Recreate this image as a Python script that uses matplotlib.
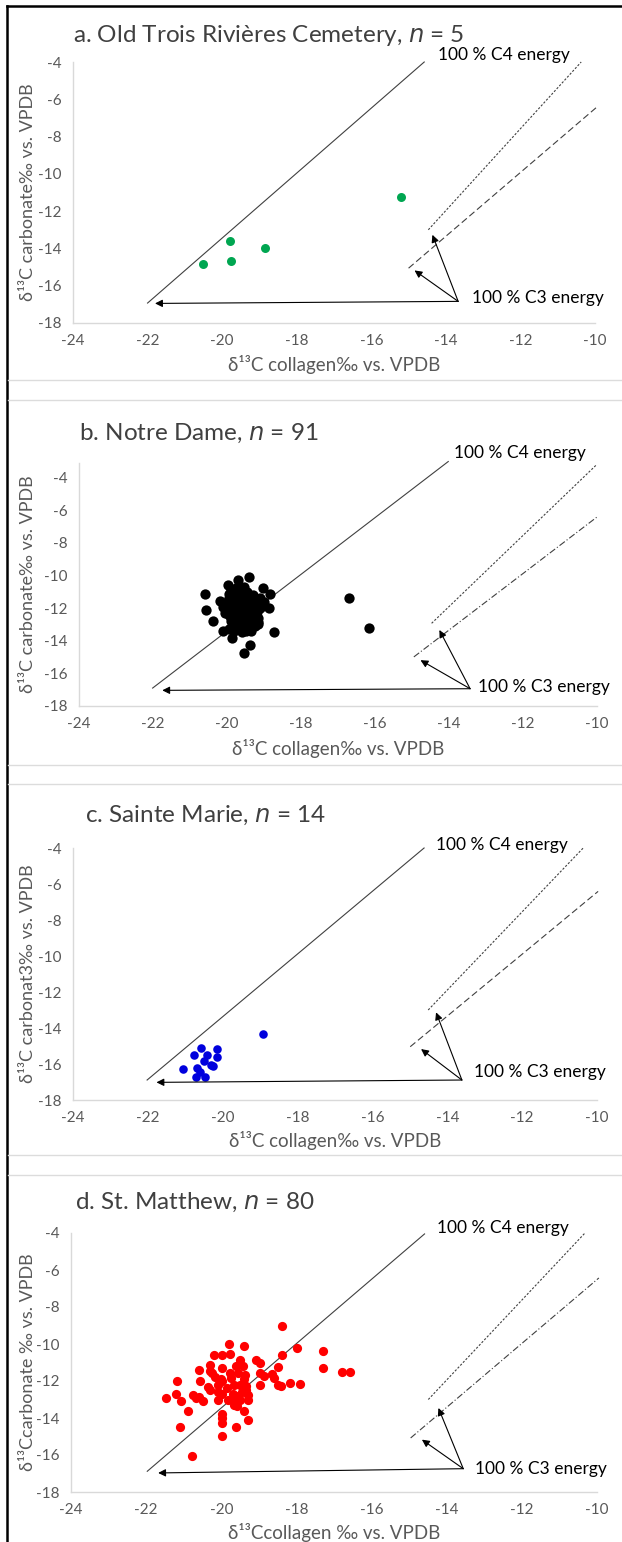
import matplotlib.pyplot as plt
from matplotlib.lines import Line2D

plt.rcParams['font.family'] = ['Lato', 'DejaVu Sans']
plt.rcParams['axes.unicode_minus'] = False

W, H = 622, 1542

# ---- data ----
a_x = [-20.51, -19.78, -19.77, -18.85, -15.19]
a_y = [-14.84, -13.58, -14.70, -13.99, -11.22]

b_x = [-20.60, -20.57, -20.37, -20.10, -20.20, -19.98, -19.71, -19.41, -19.04, -19.00,
       -18.85, -18.87, -18.74, -19.17, -19.39, -19.55, -19.87, -16.70, -16.17,
       -19.90, -19.80, -19.60, -19.45, -19.30, -19.95, -19.75, -19.55, -19.35, -19.20,
       -20.05, -19.85, -19.65, -19.45, -19.25, -19.10, -20.00, -19.80, -19.60, -19.40,
       -19.20, -19.95, -19.75, -19.55, -19.35, -19.15, -19.90, -19.70, -19.50, -19.30,
       -19.85, -19.65, -19.45, -19.60, -19.80, -19.25, -19.70, -19.50, -19.70, -19.50,
       -19.70, -19.50, -19.60, -19.80, -19.40, -19.60, -19.40, -19.75, -19.55, -20.10,
       -20.05, -19.10, -19.15, -19.95, -19.35, -19.85, -19.30, -19.65, -19.45, -19.85,
       -19.55, -19.75, -19.30, -19.95, -19.40, -19.60, -19.65, -19.50, -19.90, -19.20,
       -19.70, -19.45]
b_y = [-11.15, -12.10, -12.77, -13.40, -11.56, -10.57, -10.26, -10.12, -10.74, -11.60,
       -11.15, -12.00, -13.45, -13.00, -14.27, -14.78, -13.86, -11.35, -13.20,
       -10.90, -11.00, -10.95, -11.10, -11.20, -11.40, -11.35, -11.30, -11.45, -11.60,
       -11.70, -11.65, -11.60, -11.70, -11.85, -12.00, -12.10, -12.00, -11.95, -12.05,
       -12.25, -12.45, -12.35, -12.30, -12.45, -12.60, -12.80, -12.70, -12.65, -12.85,
       -13.10, -13.05, -13.20, -13.45, -13.40, -13.10, -11.20, -11.50, -11.80, -11.90,
       -12.20, -12.10, -12.50, -12.55, -12.60, -12.90, -12.95, -10.75, -10.70, -11.95,
       -12.30, -11.40, -12.85, -13.25, -13.40, -11.85, -11.90, -12.15, -12.35, -12.25,
       -12.75, -12.95, -12.30, -11.15, -11.30, -11.70, -13.25, -13.40, -12.60, -12.05,
       -12.50, -11.00]

c_x = [-18.93, -20.59, -20.14, -20.14, -20.77, -20.43, -20.50, -20.31, -21.06, -20.69,
       -20.71, -20.47, -20.60, -20.27]
c_y = [-14.33, -15.09, -15.17, -15.60, -15.50, -15.50, -15.84, -16.06, -16.30, -16.24,
       -16.71, -16.71, -16.43, -16.10]

d_x = [-18.39, -19.79, -19.39, -20.20, -19.97, -19.78, -18.39, -17.99, -17.28, -17.28,
       -16.78, -16.57, -19.50, -19.07, -18.97, -20.29, -20.58, -20.31, -19.97, -19.42,
       -19.36, -19.76, -19.55, -18.97, -18.65, -18.49, -18.60, -18.97, -18.49, -18.18,
       -17.91, -21.18, -20.57, -20.18, -20.08, -19.97, -19.65, -19.33, -19.49, -20.29,
       -21.20, -21.47, -21.08, -20.76, -20.68, -20.50, -20.08, -19.97, -19.81, -19.65,
       -19.55, -19.67, -19.57, -19.28, -19.33, -20.89, -19.97, -19.97, -19.39, -19.28,
       -21.11, -19.99, -19.60, -19.99, -20.79, -20.25, -20.00, -19.85, -19.45, -19.70,
       -19.40, -19.60, -18.40, -18.85, -20.35, -20.10, -19.50, -19.75, -20.60, -19.30]
d_y = [-9.01, -9.98, -10.13, -10.61, -10.61, -10.54, -10.58, -10.22, -10.40, -11.30,
       -11.50, -11.50, -10.85, -10.85, -11.00, -11.12, -11.39, -11.44, -11.30, -11.21,
       -11.66, -11.57, -11.57, -11.57, -11.62, -11.24, -11.84, -12.20, -12.20, -12.11,
       -12.16, -12.02, -12.02, -11.80, -12.20, -12.02, -12.20, -12.29, -12.20, -12.47,
       -12.70, -12.92, -13.10, -12.74, -12.92, -13.10, -13.01, -12.70, -13.01, -13.10,
       -12.83, -13.32, -13.37, -13.01, -12.47, -13.60, -13.78, -14.00, -13.60, -14.13,
       -14.50, -14.27, -14.50, -14.99, -16.04, -11.55, -11.90, -12.40, -12.60, -12.70,
       -11.90, -11.20, -12.25, -11.75, -12.30, -12.60, -13.00, -11.85, -12.85, -12.75]

titles = ['a. Old Trois Rivières Cemetery, $\\it{n}$ = 5', 'b. Notre Dame, $\\it{n}$ = 91',
          'c. Sainte Marie, $\\it{n}$ = 14', 'd. St. Matthew, $\\it{n}$ = 80']
ylabels = ['δ¹³C carbonate‰ vs. VPDB', 'δ¹³C carbonate‰ vs. VPDB',
           'δ¹³C carbonat3‰ vs. VPDB', 'δ¹³Ccarbonate ‰ vs. VPDB']
xlabels = ['δ¹³C collagen‰ vs. VPDB', 'δ¹³C collagen‰ vs. VPDB',
           'δ¹³C collagen‰ vs. VPDB', 'δ¹³Ccollagen ‰ vs. VPDB']
colors = ['#00a651', 'black', '#0000dd', '#ff0000']
xs = [a_x, b_x, c_x, d_x]
ys = [a_y, b_y, c_y, d_y]
xticks = [-24, -22, -20, -18, -16, -14, -12, -10]
yticks = [-18, -16, -14, -12, -10, -8, -6, -4]
ytops = [-4, -3.1, -4, -4]

# reference lines: (x0, y0, x1, y1)
solid_lines = [(-22.0, -16.93, -14.58, -4.0), (-22.01, -16.9, -14.02, -3.01),
               (-22.02, -16.89, -14.62, -4.0), (-21.97, -16.88, -14.59, -4.05)]
upper_lines = [(-14.47, -13.0, -10.37, -4.0), (-14.47, -12.93, -10.0, -3.18),
               (-14.51, -13.0, -10.35, -3.96), (-14.49, -13.0, -10.32, -4.0)]
lower_lines = [(-15.0, -15.06, -9.94, -6.4), (-14.95, -14.99, -9.97, -6.36),
               (-14.99, -15.04, -9.97, -6.41), (-14.96, -15.08, -9.95, -6.43)]
lower_styles = [(0, (6, 3)), (0, (6, 2, 1, 2)), (0, (6, 3)), (0, (6, 2, 1, 2))]
arrow_origin = [(-13.67, -16.84), (-13.43, -16.94), (-13.61, -16.89), (-13.56, -16.74)]
arrow_heads = [[(-21.8, -16.95), (-14.36, -13.27), (-14.84, -15.18)],
               [(-21.75, -17.04), (-14.26, -13.34), (-14.77, -15.19)],
               [(-21.77, -17.02), (-14.3, -13.13), (-14.7, -15.17)],
               [(-21.68, -16.97), (-14.22, -13.46), (-14.66, -15.17)]]
c4_pos = [(-14.2, -3.64), (-13.86, -2.46), (-14.3, -3.81), (-14.27, -3.73)]
c3_pos = [(-13.3, -16.66), (-13.22, -16.83), (-13.29, -16.43), (-13.25, -16.74)]
marker_size = [42, 55, 38, 44]

# panel boxes in pixels: left, right, top(ylim top), bottom(-18)
boxes = [(73, 595, 62, 323), (79, 597, 463, 706), (73, 597, 848, 1100), (71, 597, 1233, 1492)]
title_pos = [(73, 35), (79, 433), (85, 815), (75, 1202)]
xlabel_y = [365, 748, 1140, 1532]
seps = [380, 400, 765, 784, 1155, 1175]


def fx(px):
    return px / W


def fy(py):
    return 1 - py / H


fig = plt.figure(figsize=(W / 100, H / 100), dpi=100)

for i in range(4):
    l, r, t, b = boxes[i]
    ax = fig.add_axes([fx(l), fy(b), (r - l) / W, (b - t) / H])
    ax.scatter(xs[i], ys[i], s=marker_size[i], color=colors[i], linewidths=0, zorder=3)
    ax.set_xlim(-24, -10)
    ax.set_ylim(-18, ytops[i])
    ax.set_xticks(xticks)
    ax.set_yticks(yticks)
    ax.tick_params(length=0, labelsize=11, labelcolor='#595959', pad=8)
    for s in ['top', 'right']:
        ax.spines[s].set_visible(False)
    for s in ['left', 'bottom']:
        ax.spines[s].set_color('#d9d9d9')
        ax.spines[s].set_linewidth(1)

    x0, y0, x1, y1 = solid_lines[i]
    ax.plot([x0, x1], [y0, y1], color='#404040', lw=0.8, clip_on=False)
    x0, y0, x1, y1 = upper_lines[i]
    ax.plot([x0, x1], [y0, y1], color='#404040', lw=0.8, ls=(0, (2, 1.5)), clip_on=False)
    x0, y0, x1, y1 = lower_lines[i]
    ax.plot([x0, x1], [y0, y1], color='#404040', lw=0.8, ls=lower_styles[i], clip_on=False)

    for hx, hy in arrow_heads[i]:
        ax.annotate('', xy=(hx, hy), xytext=arrow_origin[i],
                    arrowprops=dict(arrowstyle='-|>', color='black', lw=0.8,
                                    mutation_scale=11, shrinkA=0, shrinkB=0))

    ax.text(c4_pos[i][0], c4_pos[i][1], '100 % C4 energy', fontsize=12.5, va='center',
            ha='left', clip_on=False)
    ax.text(c3_pos[i][0], c3_pos[i][1], '100 % C3 energy', fontsize=12.5, va='center',
            ha='left', clip_on=False)

    fig.text(fx(title_pos[i][0]), fy(title_pos[i][1]), titles[i], fontsize=17.5,
             color='#404040', ha='left', va='center')
    fig.text(fx((l + r) / 2), fy(xlabel_y[i]), xlabels[i], fontsize=13.5,
             color='#595959', ha='center', va='center')
    fig.text(fx(28), fy((t + b) / 2), ylabels[i], fontsize=13, color='#595959',
             rotation=90, ha='center', va='center')

# frame and separators
fig.add_artist(Line2D([fx(7), fx(7)], [0, fy(6)], color='black', lw=1.8))
fig.add_artist(Line2D([fx(7), 1], [fy(6), fy(6)], color='black', lw=1.8))
for sy in seps:
    fig.add_artist(Line2D([fx(8), 1], [fy(sy), fy(sy)], color='#dcdcdc', lw=1))

fig.savefig('out.png', dpi=100)
